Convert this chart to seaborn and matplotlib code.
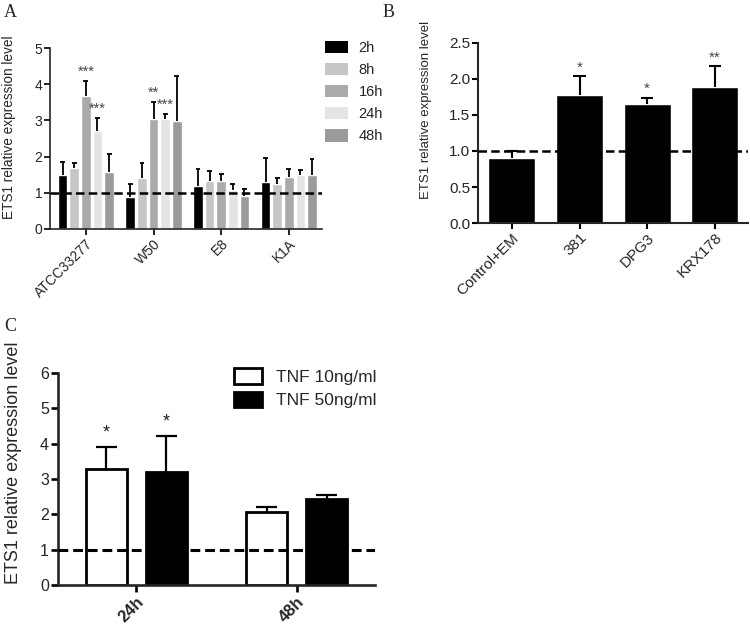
import matplotlib
matplotlib.use("Agg")
import matplotlib.pyplot as plt
from matplotlib.patches import Patch
import seaborn as sns
import pandas as pd
import numpy as np

# ---------------- data ----------------
strains = ["ATCC33277", "W50", "E8", "K1A"]
times = ["2h", "8h", "16h", "24h", "48h"]
a_2h = [1.50, 0.88, 1.20, 1.30]
a_8h = [1.68, 1.42, 1.33, 1.25]
a_16h = [3.68, 3.03, 1.33, 1.45]
a_24h = [2.72, 3.03, 1.08, 1.50]
a_48h = [1.58, 2.98, 0.90, 1.48]
e_2h = [0.35, 0.35, 0.45, 0.65]
e_8h = [0.15, 0.41, 0.27, 0.15]
e_16h = [0.42, 0.49, 0.20, 0.22]
e_24h = [0.35, 0.15, 0.16, 0.12]
e_48h = [0.50, 1.25, 0.20, 0.45]
stars_a = [("ATCC33277", "16h", "***"), ("ATCC33277", "24h", "***"),
           ("W50", "16h", "**"), ("W50", "24h", "***")]

groups_b = ["Control+EM", "381", "DPG3", "KRX178"]
vals_b = [0.90, 1.78, 1.65, 1.89]
errs_b = [0.10, 0.26, 0.09, 0.29]
stars_b = ["", "*", "*", "**"]

times_c = ["24h", "48h"]
doses_c = ["TNF 10ng/ml", "TNF 50ng/ml"]
c_10 = [3.27, 2.07]
c_50 = [3.20, 2.43]
e_10 = [0.63, 0.13]
e_50 = [1.02, 0.12]
stars_c = [["*", ""], ["*", ""]]

ylabel = "ETS1 relative expression level"

# ---------------- style ----------------
sns.set_style("ticks")
plt.rcParams["font.family"] = ["Liberation Sans", "DejaVu Sans"]

W, H = 750, 624
fig = plt.figure(figsize=(W / 100, H / 100), dpi=100)

def px_axes(l, r, b, t):
    return fig.add_axes([l / W, 1 - b / H, (r - l) / W, (b - t) / H])

axA = px_axes(50, 322, 229, 48)
axB = px_axes(478, 748, 223, 43)
axC = px_axes(58, 375, 585, 373)

def add_err(ax, bars, errs, cw, lw):
    for bar, e in zip(bars, errs):
        x = bar.get_x() + bar.get_width() / 2
        y = bar.get_height()
        ax.vlines(x, y, y + e, color="black", lw=lw, zorder=3)
        ax.hlines(y + e, x - cw / 2, x + cw / 2, color="black", lw=lw, zorder=3)

def style_axis(ax, lw, ticklen, fs):
    sns.despine(ax=ax)
    for s in ["left", "bottom"]:
        ax.spines[s].set_linewidth(lw)
    ax.tick_params(axis="both", direction="out", length=ticklen, width=lw,
                   labelsize=fs, pad=1.5, color="black")

# ---------------- Panel A ----------------
colors_a = ["#000000", "#c6c6c6", "#aaaaaa", "#e4e4e4", "#9b9b9b"]
series_a = [a_2h, a_8h, a_16h, a_24h, a_48h]
errs_a = [e_2h, e_8h, e_16h, e_24h, e_48h]
dfA = pd.DataFrame({
    "strain": np.tile(strains, len(times)),
    "time": np.repeat(times, len(strains)),
    "value": np.concatenate(series_a),
})
sns.barplot(data=dfA, x="strain", y="value", hue="time", hue_order=times,
            order=strains, palette=colors_a, width=0.86, gap=0.18,
            errorbar=None, saturation=1, legend=False, ax=axA, zorder=2)
for cont, errs in zip(axA.containers, errs_a):
    add_err(axA, cont, errs, 0.07, 1.3)
for st, tm, lab in stars_a:
    bar = axA.containers[times.index(tm)][strains.index(st)]
    e = errs_a[times.index(tm)][strains.index(st)]
    axA.text(bar.get_x() + bar.get_width() / 2, bar.get_height() + e + 0.05,
             lab, ha="center", va="bottom", fontsize=10.5, color="#444444")
axA.axhline(1, color="black", lw=1.8, dashes=(3.4, 1.7), zorder=4)
axA.set_ylim(0, 5)
axA.set_yticks(range(0, 6))
axA.set_xlim(-0.53, 3.49)
style_axis(axA, 1.2, 4, 10)
axA.set_xticks(range(len(strains)))
axA.set_xticklabels(strains, rotation=45, ha="right", rotation_mode="anchor")
axA.set_xlabel("")
axA.set_ylabel(ylabel, fontsize=9.8)
axA.yaxis.set_label_coords(-0.125, 0.56)
handles = [Patch(facecolor=c, edgecolor="none") for c in colors_a]
fig.legend(handles, times, loc="upper left", bbox_to_anchor=(325 / W, 1 - 41 / H),
           frameon=False, fontsize=10.5, handlelength=1.6, handleheight=0.9,
           labelspacing=0.55, handletextpad=0.7, borderpad=0, borderaxespad=0)

# ---------------- Panel B ----------------
sns.barplot(x=groups_b, y=vals_b, color="black", width=0.69, saturation=1,
            errorbar=None, ax=axB, zorder=2)
add_err(axB, axB.containers[0], errs_b, 0.18, 1.5)
for bar, e, lab in zip(axB.containers[0], errs_b, stars_b):
    if lab:
        axB.text(bar.get_x() + bar.get_width() / 2, bar.get_height() + e + 0.02,
                 lab, ha="center", va="bottom", fontsize=11, color="#444444")
axB.axhline(1, color="black", lw=1.8, dashes=(3.4, 1.7), zorder=4)
axB.set_ylim(0, 2.5)
axB.set_yticks([0, 0.5, 1.0, 1.5, 2.0, 2.5])
axB.set_yticklabels(["0.0", "0.5", "1.0", "1.5", "2.0", "2.5"])
axB.set_xlim(-0.50, 3.49)
style_axis(axB, 1.5, 4, 11)
axB.set_xticks(range(len(groups_b)))
axB.set_xticklabels(groups_b, rotation=45, ha="right", rotation_mode="anchor")
axB.set_ylabel(ylabel, fontsize=9.5)
axB.yaxis.set_label_coords(-0.170, 0.63)

# ---------------- Panel C ----------------
dfC = pd.DataFrame({
    "time": times_c * 2,
    "dose": np.repeat(doses_c, len(times_c)),
    "value": c_10 + c_50,
})
sns.barplot(data=dfC, x="time", y="value", hue="dose", hue_order=doses_c,
            order=times_c, palette=["white", "black"], width=0.75, gap=0.32,
            edgecolor="black", linewidth=2, errorbar=None, saturation=1,
            legend=False, ax=axC, zorder=2)
errs_c = [e_10, e_50]
for cont, errs in zip(axC.containers, errs_c):
    add_err(axC, cont, errs, 0.13, 1.6)
for cont, errs, labs in zip(axC.containers, errs_c, stars_c):
    for bar, e, lab in zip(cont, errs, labs):
        if lab:
            axC.text(bar.get_x() + bar.get_width() / 2, bar.get_height() + e + 0.15,
                     lab, ha="center", va="bottom", fontsize=13, color="#222222")
axC.axhline(1, color="black", lw=2.2, dashes=(3.2, 1.6), zorder=4)
axC.set_ylim(0, 6)
axC.set_yticks(range(0, 7))
axC.set_xlim(-0.49, 1.49)
style_axis(axC, 1.9, 5, 11.5)
axC.set_xticks(range(len(times_c)))
axC.set_xticklabels(times_c, rotation=45, ha="right", rotation_mode="anchor",
                    fontweight="bold", fontsize=12)
axC.set_xlabel("")
axC.set_ylabel(ylabel, fontsize=13)
axC.yaxis.set_label_coords(-0.114, 0.575)
handles_c = [Patch(facecolor=c, edgecolor="black", linewidth=2) for c in ["white", "black"]]
axC.legend(handles_c, doses_c, loc="upper left", bbox_to_anchor=(234 / W, 1 - 368 / H),
           bbox_transform=fig.transFigure, frameon=False, fontsize=12.5,
           handlelength=1.6, handleheight=1.0, labelspacing=0.4,
           handletextpad=0.8, borderpad=0, borderaxespad=0)

# ---------------- panel letters ----------------
for x, y, lab in [(4, 4, "A"), (383, 4, "B"), (4, 318, "C")]:
    fig.text(x / W, 1 - y / H, lab, ha="left", va="top", fontsize=13,
             family=["Liberation Serif", "DejaVu Serif"])

fig.savefig("out.png", dpi=100)
